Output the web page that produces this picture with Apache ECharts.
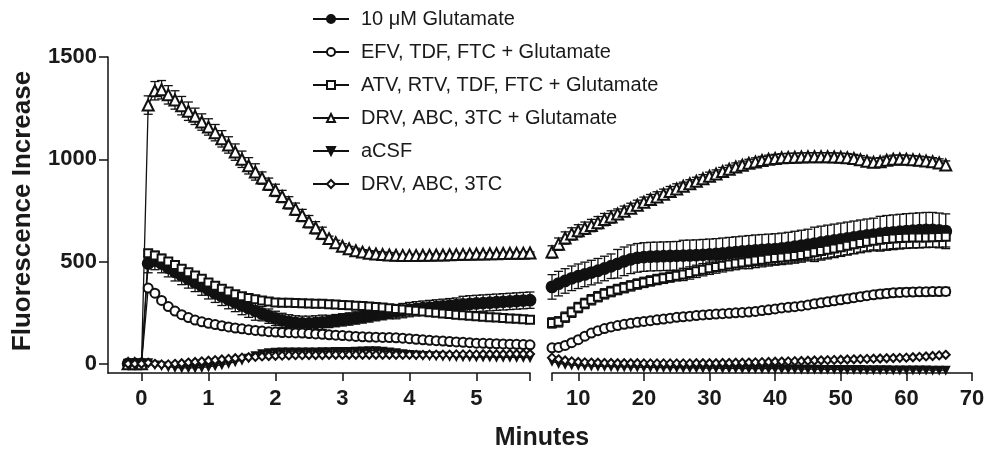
<!DOCTYPE html>
<html>
<head>
<meta charset="utf-8">
<script src="https://cdn.jsdelivr.net/npm/echarts@6/dist/echarts.min.js"></script>
<style>
  html, body { margin: 0; padding: 0; background: #fff; }
  #main { width: 993px; height: 454px; }
</style>
</head>
<body>
<div id="main"></div>
<script type="text/javascript">
// ---- data ----
var names = ['10 μM Glutamate', 'EFV, TDF, FTC + Glutamate', 'ATV, RTV, TDF, FTC + Glutamate',
             'DRV, ABC, 3TC + Glutamate', 'aCSF', 'DRV, ABC, 3TC'];

// left panel, minutes -0.2 .. 5.8
var tLeft = [-0.2,-0.1,0,0.1,0.2,0.3,0.4,0.5,0.6,0.7,0.8,0.9,1.0,1.1,1.2,1.3,1.4,1.5,1.6,1.7,1.8,1.9,2.0,
  2.1,2.2,2.3,2.4,2.5,2.6,2.7,2.8,2.9,3.0,3.1,3.2,3.3,3.4,3.5,3.6,3.7,3.8,3.9,4.0,
  4.1,4.2,4.3,4.4,4.5,4.6,4.7,4.8,4.9,5.0,5.1,5.2,5.3,5.4,5.5,5.6,5.7,5.8];
var glutLeft = [0,0,0, 490,505,490,470,450,432,415,398,380,362, 345,330,314,300,285,272,258,245,233,222,
  212,205,200,198,198,200,203,207,211,215, 219,224,229,234,240,245,250,255,260,265,
  269,272,275,278,281,284,287,290,293,295, 297,299,301,303,305,307,309,311];
var efvLeft = [0,0,0, 370,345,310,280,258,240,226,214,205,198, 192,186,180,175,171,167,163,160,157,155,
  153,152,151,150,148,146,144,142,140,138, 136,134,132,131,130,129,128,127,125,123,
  120,117,115,113,111,109,107,105,103,101, 100,99,98,97,96,95,94,93];
var atvLeft = [0,0,0, 540,530,515,500,483,465,448,432,416,398, 382,367,353,340,330,322,315,309,304,300,
  299,298,297,296,295,294,293,291,290,288, 286,284,282,280,278,275,272,268,265,262,
  259,256,252,249,246,243,240,237,235,232, 230,228,226,224,222,220,218,215];
var drvGLeft = [0,0,0, 1265,1335,1340,1315,1290,1262,1235,1210,1182,1158, 1130,1100,1070,1035,1000,968,938,908,878,848,
  818,787,756,725,695,665,638,612,592,575, 562,553,546,541,537,534,532,531,530,530,
  530,531,531,532,532,533,534,535,536,537, 537,538,538,539,540,540,541,542];
var acsfLeft = [0,0,0, 5,-5,-10,-15,-18,-20,-20,-20,-18,-15, -10,-5,2,10,18,28,40,50,55,57,
  58,58,58,58,58,58,59,59,60,60, 61,62,63,64,64,62,58,54,50,46,
  43,41,39,38,37,36,35,34,34,33, 33,33,32,32,32,31,31,30];
var drvLeft = [0,0,0, 5,0,-3,-3,0,3,6,9,12,15, 18,21,24,27,30,32,34,36,38,39,
  40,41,42,42,43,43,43,44,44,44, 44,44,44,44,44,44,44,44,44,44,
  44,44,45,45,45,45,46,46,46,46, 47,47,47,47,48,48,48,48];

// right panel, minutes 6 .. 66
var tRight = [6,7,8,9,10,11,12,13,14,15,16,17,18,19,20,21,22,23,24,25,26,27,28,29,30,31,32,33,34,35,
  36,37,38,39,40,41,42,43,44,45,46,47,48,49,50,51,52,53,54,55,56,57,58,59,60,61,62,63,64,65,66];
var glutRight = [376,392,405,418,428,437,446,455,466,477, 489,501,511,518,522,524,525,526,527,528,
  529,530,531,533,535,537,540,543,546,549, 552,555,557,559,561,564,568,573,578,583,
  588,593,598,603,608,613,618,623,628,632, 636,640,643,646,649,651,653,655,655,652, 648];
var efvRight = [78,80,90,103,118,135,150,162,172,180, 187,193,198,203,207,211,215,219,223,227,
  230,233,236,239,241,243,245,247,249,251, 253,256,260,264,268,273,276,279,283,288,
  293,298,303,308,313,318,323,328,333,337, 341,344,347,349,350,351,352,352,353,353, 354];
var atvRight = [200,205,228,252,275,295,313,328,342,353, 363,372,381,390,398,405,412,418,424,430,
  437,444,452,460,467,473,479,485,490,495, 500,505,509,513,517,520,523,527,532,538,
  545,552,558,564,570,577,584,591,597,602, 606,610,613,615,616,617,617,618,619,620, 621];
var drvGRight = [547,585,615,635,650,663,676,690,705,718, 732,746,760,775,790,803,816,829,842,855,
  868,880,892,905,917,928,940,951,962,971, 980,987,994,1000,1004,1007,1009,1010,1011,1012,
  1012,1012,1012,1011,1010,1008,1004,998,990,985, 988,995,1000,1001,1000,998,995,992,988,982, 972];
var acsfRight = [12,2,-3,-6,-8,-10,-11,-12,-13,-14, -15,-15,-16,-16,-17,-17,-18,-18,-19,-19,
  -20,-20,-20,-21,-21,-21,-22,-22,-22,-23, -23,-23,-24,-24,-24,-25,-25,-25,-26,-26,
  -26,-27,-27,-27,-28,-28,-28,-28,-29,-29, -29,-29,-30,-30,-30,-30,-30,-30,-31,-31, -31];
var drvRight = [30,22,16,12,9,7,6,5,4,4, 3,3,3,3,2,2,2,2,2,2,
  2,2,3,3,3,3,4,4,5,5, 6,7,8,9,10,11,12,13,14,15,
  16,17,18,19,20,21,22,23,24,25, 26,27,28,29,30,32,34,36,38,41, 44];

// SEM, one value per block of 10 points
var glutErrLeft = [45,45,35,30,35,40,40];
var efvErrLeft = [10,6,5,5,5,5,5];
var atvErrLeft = [15,10,8,8,8,8,8];
var drvGErrLeft = [45,40,30,12,5,5,5];
var glutErrRight = [60,70,75,75,80,85,85];
var efvErrRight = [12,12,12,15,18,20,20];
var atvErrRight = [25,25,30,35,45,50,50];
var drvGErrRight = [30,25,20,20,20,20,20];

var leftTicks = [0,1,2,3,4,5,5.8];
var leftLabels = [0,1,2,3,4,5];
var rightTicks = [6,10,20,30,40,50,60,70];
var rightLabels = [10,20,30,40,50,60,70];
var yTicks = [0,500,1000,1500];

// ---- chart ----
var FONT = 'Liberation Sans, Arial, Helvetica, sans-serif';
var INK = '#111';
var chart = echarts.init(document.getElementById('main'));

function pts(t, v) {
	var out = [];
	for (var i = 0; i < t.length; i++) out.push([t[i], v[i]]);
	return out;
}
function errPts(t, v, e) {
	var out = [];
	for (var i = 0; i < t.length; i++) {
		if (t[i] <= 0) continue;
		out.push([t[i], v[i], e[Math.floor(i / 10)]]);
	}
	return out;
}
function renderErr(params, api) {
	var x = api.value(0), v = api.value(1), e = api.value(2);
	var top = api.coord([x, v + e]);
	var bot = api.coord([x, v - e]);
	var hw = 4.5;
	var st = { stroke: INK, lineWidth: 1.3 };
	return {
		type: 'group',
		children: [
			{ type: 'line', shape: { x1: top[0], y1: top[1], x2: bot[0], y2: bot[1] }, style: st },
			{ type: 'line', shape: { x1: top[0] - hw, y1: top[1], x2: top[0] + hw, y2: top[1] }, style: st },
			{ type: 'line', shape: { x1: bot[0] - hw, y1: bot[1], x2: bot[0] + hw, y2: bot[1] }, style: st }
		]
	};
}

var styles = [
	{ symbol: 'circle', size: 11, rotate: 0 },
	{ symbol: 'emptyCircle', size: 9, rotate: 0 },
	{ symbol: 'emptyRect', size: 8, rotate: 0 },
	{ symbol: 'emptyTriangle', size: 11, rotate: 0 },
	{ symbol: 'triangle', size: 7, rotate: 180 },
	{ symbol: 'emptyDiamond', size: 8, rotate: 0 }
];
var leftSets = [glutLeft, efvLeft, atvLeft, drvGLeft, acsfLeft, drvLeft];
var rightSets = [glutRight, efvRight, atvRight, drvGRight, acsfRight, drvRight];
var leftErrs = [glutErrLeft, efvErrLeft, atvErrLeft, drvGErrLeft, null, null];
var rightErrs = [glutErrRight, efvErrRight, atvErrRight, drvGErrRight, null, null];

var series = [];
function addPanel(idx, t, sets, errs) {
	for (var k = 0; k < sets.length; k++) {
		if (errs[k]) {
			series.push({
				type: 'custom', xAxisIndex: idx, yAxisIndex: idx, z: 1, silent: true,
				renderItem: renderErr, encode: { x: 0, y: 1 },
				data: errPts(t, sets[k], errs[k])
			});
		}
		series.push({
			name: names[k], type: 'line', xAxisIndex: idx, yAxisIndex: idx, z: 2,
			data: pts(t, sets[k]),
			symbol: styles[k].symbol, symbolSize: styles[k].size, symbolRotate: styles[k].rotate,
			showAllSymbol: true, clip: false,
			lineStyle: { color: INK, width: 1.3 },
			itemStyle: { color: INK, borderColor: INK, borderWidth: 1.8 }
		});
	}
}
addPanel(0, tLeft, leftSets, leftErrs);
addPanel(1, tRight, rightSets, rightErrs);

function plain(v) { return String(v); }

function xAxisCfg(grid, min, max, ticks, labels) {
	return {
		gridIndex: grid, type: 'value', min: min, max: max,
		axisLine: { show: true, onZero: false, lineStyle: { color: INK, width: 1.5 } },
		axisTick: { show: true, length: 8, customValues: ticks, lineStyle: { color: INK, width: 1.5 } },
		axisLabel: { customValues: labels, formatter: plain, fontSize: 22, fontWeight: 'bold', color: '#1a1a1a', margin: 15, fontFamily: FONT },
		splitLine: { show: false }
	};
}
function yAxisCfg(grid, visible) {
	return {
		gridIndex: grid, type: 'value', min: -45, max: 1500, show: visible,
		axisLine: { show: true, onZero: false, lineStyle: { color: INK, width: 1.5 } },
		axisTick: { show: true, length: 9, customValues: yTicks, lineStyle: { color: INK, width: 1.5 } },
		axisLabel: { customValues: yTicks, formatter: plain, fontSize: 22, fontWeight: 'bold', color: '#1a1a1a', margin: 11, fontFamily: FONT },
		splitLine: { show: false }
	};
}

chart.setOption({
	animation: false,
	backgroundColor: '#fff',
	grid: [
		{ left: 108, top: 57, width: 422, height: 316 },
		{ left: 552, top: 57, width: 420, height: 316 }
	],
	xAxis: [
		xAxisCfg(0, -0.5, 5.8, leftTicks, leftLabels),
		xAxisCfg(1, 6, 70, rightTicks, rightLabels)
	],
	yAxis: [yAxisCfg(0, true), yAxisCfg(1, false)],
	legend: {
		data: names, orient: 'vertical', left: 307, top: 4,
		itemWidth: 36, itemHeight: 10, itemGap: 13, selectedMode: false,
		textStyle: { fontSize: 20, color: '#1a1a1a', fontFamily: FONT, padding: [0, 0, 0, 7] }
	},
	graphic: [
		{ type: 'text', x: 23, y: 211, rotation: Math.PI / 2,
		  style: { text: 'Fluorescence Increase', font: 'bold 26px ' + FONT, fill: '#1a1a1a', align: 'center', verticalAlign: 'middle' } },
		{ type: 'text', x: 542, y: 438,
		  style: { text: 'Minutes', font: 'bold 25px ' + FONT, fill: '#1a1a1a', align: 'center', verticalAlign: 'middle' } }
	],
	series: series
});
</script>
</body>
</html>
